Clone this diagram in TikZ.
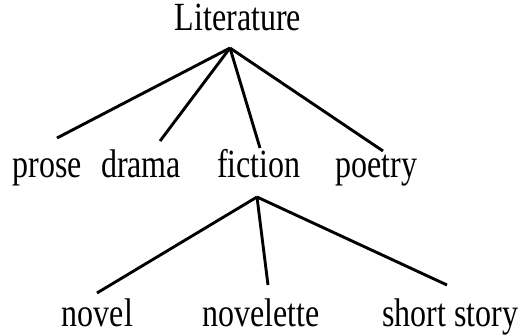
\documentclass[tikz,border=0pt]{standalone}
\usepackage{fontspec}
\setmainfont{Liberation Serif}
\usetikzlibrary{calc}
\begin{document}
\begin{tikzpicture}[x=1pt,y=-1pt,
  term/.style={anchor=base,inner sep=0pt,font=\fontsize{32}{38}\selectfont},
  branch/.style={line width=2.9pt}]
\useasboundingbox (0,0) rectangle (524,336);
% level 0
\node[term] (lit) at (238,31) {\scalebox{1}[1.25]{Literature}};
% level 1
\node[term] (prose)   at (47,178)  {\scalebox{1}[1.25]{prose}};
\node[term] (drama)   at (141,178) {\scalebox{1}[1.25]{drama}};
\node[term] (fiction) at (259,178) {\scalebox{1}[1.25]{fiction}};
\node[term] (poetry)  at (376.5,178) {\scalebox{1}[1.25]{poetry}};
% level 2
\node[term] (novel)     at (97.5,326) {\scalebox{1}[1.25]{novel}};
\node[term] (novelette) at (261,326)  {\scalebox{1}[1.25]{novelette}};
\node[term] (short)     at (450,326)  {\scalebox{1}[1.25]{short story}};
% fork points under the parent labels
\coordinate (litfork) at ($(lit.base)+(-8,17)$);
\coordinate (ficfork) at ($(fiction.base)+(-2,19)$);
% branches
\draw[branch] (litfork) -- ($(prose.base)+(10,-40)$);
\draw[branch] (litfork) -- ($(drama.base)+(19,-37)$);
\draw[branch] (litfork) -- ($(fiction.base)+(1,-30)$);
\draw[branch] (litfork) -- ($(poetry.base)+(6.5,-27)$);
\draw[branch] (ficfork) -- ($(novel.base)+(-0.5,-33)$);
\draw[branch] (ficfork) -- ($(novelette.base)+(7,-41)$);
\draw[branch] (ficfork) -- ($(short.base)+(-3,-41)$);
\end{tikzpicture}
\end{document}
